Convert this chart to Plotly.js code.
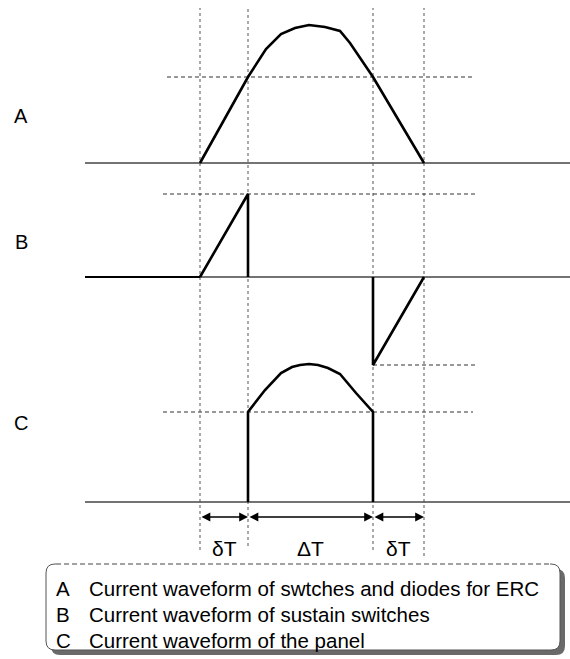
<!DOCTYPE html>
<html>
<head>
<meta charset="utf-8">
<script src="https://cdn.plot.ly/plotly-3.0.1.min.js"></script>
<style>html,body{margin:0;padding:0;background:#fff;}#chart{width:570px;height:659px;}</style>
</head>
<body>
<div id="chart"></div>
<script>
// ---- data (time in arbitrary units, current in arbitrary units) ----
const panelLabels = ["A", "B", "C"];
const markTimes = [0, 48, 173, 224];          // switching instants (guides)
const baseTime = [-115, 370];                  // baseline extent

const timeA    = [0, 48, 66, 81, 95, 109, 125, 140, 150, 173, 224];
const currentA = [0, 86, 114, 129, 135, 138, 136, 132, 120, 86, 0];
const levelA = 86;  const levelATime = [-33, 272];

const timeB    = [0, 48, 48, null, 173, 173, 224];
const currentB = [0, 83, 0, null, 0, -88, 0];
const leftBTime = [-115, 0];
const levelB = 83;  const levelBTime = [-37, 277];
const levelBneg = -88; const levelBnegTime = [173, 275];

const timeC    = [48, 48, 65, 81, 92, 100, 109, 118, 128, 140, 156, 173, 173];
const currentC = [0, 90, 112, 129, 135, 137, 138, 137, 134, 128, 109, 90, 0];
const levelC = 90;  const levelCTime = [-37, 273];

const spanLabels = ["δT", "ΔT", "δT"];
const legendLetters = ["A", "B", "C"];
const legendTexts = [
  "Current waveform of swtches and diodes for ERC",
  "Current waveform of sustain switches",
  "Current waveform of the panel"
];

// ---- helpers ----
const W = 570, H = 659;
const px = x => x / W;
const py = y => 1 - y / H;

const wave = {color: "#000", width: 2.6};
const base = {color: "#444", width: 1.4};
const dash = {color: "#333", width: 1, dash: "4px,3px"};

function line(x, y, yaxis, ln) {
  return {type: "scatter", mode: "lines", x: x, y: y, yaxis: yaxis,
          line: ln, hoverinfo: "skip", showlegend: false, connectgaps: false};
}

const traces = [
  // baselines
  line(baseTime, [0, 0], "y", base),
  line(baseTime, [0, 0], "y2", base),
  line(baseTime, [0, 0], "y3", base),
  // dashed levels
  line(levelATime, [levelA, levelA], "y", dash),
  line(levelBTime, [levelB, levelB], "y2", dash),
  line(levelBnegTime, [levelBneg, levelBneg], "y2", dash),
  line(levelCTime, [levelC, levelC], "y3", dash),
  // waveforms
  line(timeA, currentA, "y", wave),
  line(leftBTime, [0, 0], "y2", {color: "#000", width: 1.8}),
  line(timeB, currentB, "y2", wave),
  line(timeC, currentC, "y3", wave)
];

const guideTop = [8, 8, 8, 8];
const guideBottom = [550, 546, 550, 556];
const shapes = markTimes.map((t, i) => ({
  type: "line", xref: "x", yref: "paper", x0: t, x1: t,
  y0: py(guideBottom[i]), y1: py(guideTop[i]),
  line: {color: "#555", width: 1, dash: "dot"}, layer: "below"
}));

// legend box (rounded) with shadow
function roundRect(x0, y0, x1, y1, r) {
  const X = v => px(v), Y = v => py(v);
  return `M ${X(x0 + r)} ${Y(y0)} L ${X(x1 - r)} ${Y(y0)} Q ${X(x1)} ${Y(y0)} ${X(x1)} ${Y(y0 + r)} ` +
         `L ${X(x1)} ${Y(y1 - r)} Q ${X(x1)} ${Y(y1)} ${X(x1 - r)} ${Y(y1)} ` +
         `L ${X(x0 + r)} ${Y(y1)} Q ${X(x0)} ${Y(y1)} ${X(x0)} ${Y(y1 - r)} ` +
         `L ${X(x0)} ${Y(y0 + r)} Q ${X(x0)} ${Y(y0)} ${X(x0 + r)} ${Y(y0)} Z`;
}
shapes.push({type: "path", xref: "paper", yref: "paper", path: roundRect(51, 569, 565, 655, 9),
             fillcolor: "#6a6a6a", line: {width: 0}, layer: "above"});
shapes.push({type: "path", xref: "paper", yref: "paper", path: roundRect(46, 564, 560, 650, 9),
             fillcolor: "#fff", line: {color: "#555", width: 1}, layer: "above"});
shapes.push({type: "line", xref: "paper", yref: "paper", x0: px(56), x1: px(550), y0: py(564), y1: py(564),
             line: {color: "#fff", width: 2}, layer: "above"});
shapes.push({type: "line", xref: "paper", yref: "paper", x0: px(56), x1: px(550), y0: py(564), y1: py(564),
             line: {color: "#444", width: 1, dash: "5px,3px"}, layer: "above"});

const font = "Liberation Sans, Arial, sans-serif";
const annotations = [];
// panel labels
const panelLabelY = [47, 35, 79];
const panelAxes = ["y", "y2", "y3"];
panelLabels.forEach((lab, i) => annotations.push({
  text: lab, x: -179, y: panelLabelY[i], xref: "x", yref: panelAxes[i],
  showarrow: false, font: {family: font, size: 20, color: "#000"}
}));
// span arrows
for (let i = 0; i < markTimes.length - 1; i++) {
  annotations.push({
    x: markTimes[i + 1], y: -15, ax: markTimes[i], ay: -15,
    xref: "x", yref: "y3", axref: "x", ayref: "y3", text: "",
    showarrow: true, arrowhead: 2, arrowside: "end+start", arrowsize: 1.1, arrowwidth: 1.6,
    arrowcolor: "#000", standoff: 0, startstandoff: 0
  });
  annotations.push({
    text: spanLabels[i], x: (markTimes[i] + markTimes[i + 1]) / 2, y: -46,
    xref: "x", yref: "y3", showarrow: false,
    font: {family: font, size: 21, color: "#000"}
  });
}
// legend text
const legendY = [588, 614, 640];
legendLetters.forEach((l, i) => {
  annotations.push({text: l, x: px(54), y: py(legendY[i]), xref: "paper", yref: "paper",
    xanchor: "left", yanchor: "middle", showarrow: false,
    font: {family: font, size: 20.5, color: "#000"}});
  annotations.push({text: legendTexts[i], x: px(87), y: py(legendY[i]), xref: "paper", yref: "paper",
    xanchor: "left", yanchor: "middle", showarrow: false,
    font: {family: font, size: 20.5, color: "#000"}});
});

const hidden = {showgrid: false, zeroline: false, showticklabels: false, showline: false, ticks: "", fixedrange: true};
const layout = {
  width: W, height: H,
  margin: {l: 0, r: 0, t: 0, b: 0, pad: 0},
  paper_bgcolor: "#fff", plot_bgcolor: "rgba(0,0,0,0)",
  showlegend: false,
  xaxis: Object.assign({range: [-200, 370]}, hidden),
  yaxis: Object.assign({domain: [1 - 170 / H, 1], range: [-7, 163]}, hidden),
  yaxis2: Object.assign({domain: [1 - 400 / H, 1 - 170 / H], range: [-123, 107]}, hidden),
  yaxis3: Object.assign({domain: [0, 1 - 340 / H], range: [-157, 162]}, hidden),
  shapes: shapes,
  annotations: annotations
};

Plotly.newPlot("chart", traces, layout, {staticPlot: true, displayModeBar: false});
</script>
</body>
</html>
